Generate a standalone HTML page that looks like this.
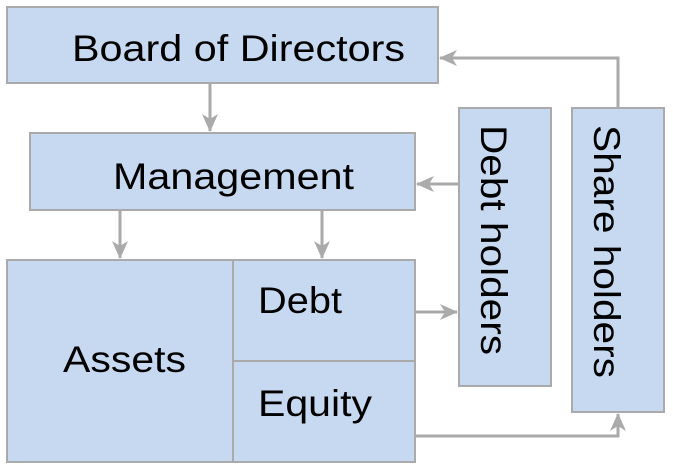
<!DOCTYPE html>
<html><head><style>body{margin:0;background:#fff}svg{display:block}</style></head><body>
<svg width="673" height="469" xmlns="http://www.w3.org/2000/svg" font-family="Liberation Sans, Arial, sans-serif" font-size="37">
<g fill="#c6d9f1" stroke="#aaaaaa" stroke-width="2">
<rect x="7" y="7" width="431" height="76"/>
<rect x="30" y="133" width="385" height="77"/>
<rect x="7" y="260" width="408" height="202"/>
<line x1="233" y1="260" x2="233" y2="462"/>
<line x1="233" y1="361" x2="415" y2="361"/>
<rect x="459" y="108" width="92" height="278"/>
<rect x="572" y="108" width="92" height="304"/>
</g>
<g stroke="#aaaaaa" stroke-width="3" fill="none">
<path d="M210 84 V131"/>
<path d="M120 211 V258"/>
<path d="M322 211 V258"/>
<path d="M618 107 V58 H440"/>
<path d="M458 184 H417"/>
<path d="M416 312 H457"/>
<path d="M416 436 H618 V414"/>
</g>
<g fill="#aaaaaa">
<path d="M210 132 L202 114 L210 119 L218 114 Z"/>
<path d="M120 259 L112 241 L120 246 L128 241 Z"/>
<path d="M322 259 L314 241 L322 246 L330 241 Z"/>
<path d="M439 58 L457 50 L452 58 L457 66 Z"/>
<path d="M416 184 L434 176 L429 184 L434 192 Z"/>
<path d="M458 312 L440 304 L445 312 L440 320 Z"/>
<path d="M618 413 L610 431 L618 426 L626 431 Z"/>
</g>
<g fill="#000">
<text x="72" y="61" textLength="333" lengthAdjust="spacingAndGlyphs">Board of Directors</text>
<text x="113" y="189" textLength="241" lengthAdjust="spacingAndGlyphs">Management</text>
<text x="63" y="372" textLength="123" lengthAdjust="spacingAndGlyphs">Assets</text>
<text x="258" y="313" textLength="84" lengthAdjust="spacingAndGlyphs">Debt</text>
<text x="258" y="416" textLength="114" lengthAdjust="spacingAndGlyphs">Equity</text>
<text transform="translate(481,125) rotate(90)" textLength="230" lengthAdjust="spacingAndGlyphs">Debt holders</text>
<text transform="translate(594,125) rotate(90)" textLength="253" lengthAdjust="spacingAndGlyphs">Share holders</text>
</g>
</svg>
</body></html>
